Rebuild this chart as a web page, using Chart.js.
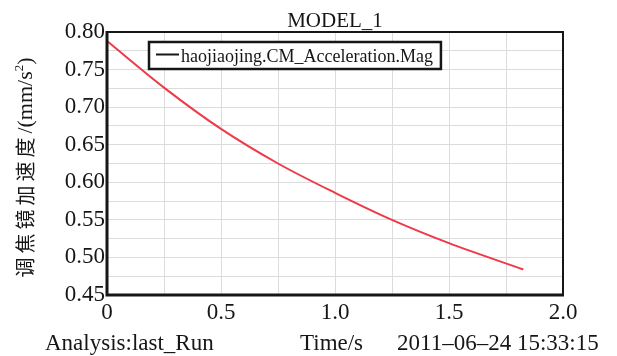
<!DOCTYPE html>
<html>
<head>
<meta charset="utf-8">
<script src="https://cdn.jsdelivr.net/npm/chart.js@4.4.1/dist/chart.umd.min.js"></script>
<style>
html,body{margin:0;padding:0;background:#fff;}
#wrap{width:617px;height:356px;}
</style>
</head>
<body>
<div id="wrap"><canvas id="c" width="617" height="356"></canvas></div>
<script>
// Data
const timeValues = [0, 0.25, 0.5, 0.75, 1.0, 1.25, 1.5, 1.826];
const accelValues = [0.788, 0.726, 0.671, 0.625, 0.586, 0.550, 0.519, 0.484];
const seriesName = 'haojiaojing.CM_Acceleration.Mag';
const chartTitle = 'MODEL_1';
const yTitleCJK = '调焦镜加速度';
const xTitle = 'Time/s';
const footerLeft = 'Analysis:last_Run';
const footerRight = '2011–06–24 15:33:15';

const SERIF = '"Liberation Serif", "DejaVu Serif", serif';

const points = timeValues.map((t, i) => ({x: t, y: accelValues[i]}));

const decor = {
  id: 'decor',
  afterDraw(chart) {
    const ctx = chart.ctx;
    const {left, top, right, bottom} = chart.chartArea;
    ctx.save();
    // plot frame
    ctx.strokeStyle = '#161616';
    ctx.lineWidth = 2;
    ctx.strokeRect(left, top, right - left, bottom - top);
    ctx.lineWidth = 3;
    ctx.beginPath();
    ctx.moveTo(left, top - 1);
    ctx.lineTo(left, bottom);
    ctx.lineTo(right + 1, bottom);
    ctx.stroke();

    // legend box
    ctx.fillStyle = '#fff';
    ctx.font = '18px ' + SERIF;
    const tw = ctx.measureText(seriesName).width;
    const bx = left + 42, by = top + 10, bh = 27;
    const bw = 32 + tw + 8;
    ctx.fillRect(bx, by, bw, bh);
    ctx.lineWidth = 2.5;
    ctx.strokeRect(bx, by, bw, bh);
    ctx.lineWidth = 2;
    ctx.beginPath();
    ctx.moveTo(bx + 7, by + 12.5);
    ctx.lineTo(bx + 30, by + 12.5);
    ctx.stroke();
    ctx.fillStyle = '#161616';
    ctx.textBaseline = 'alphabetic';
    ctx.textAlign = 'left';
    ctx.fillText(seriesName, bx + 32, by + 20);

    // title
    ctx.font = '21px ' + SERIF;
    ctx.textAlign = 'center';
    ctx.fillText(chartTitle, (left + right) / 2, 27);

    // footer
    ctx.font = '23px ' + SERIF;
    ctx.textAlign = 'left';
    ctx.fillText(footerLeft, 45, 350);
    ctx.fillText(xTitle, 300, 350);
    ctx.fillText(footerRight, 397, 350);

    // y title (rotated)
    ctx.translate(25, 167.5);
    ctx.rotate(-Math.PI / 2);
    ctx.textBaseline = 'middle';
    ctx.textAlign = 'left';
    ctx.font = '20px "Noto Sans CJK SC", sans-serif';
    ctx.letterSpacing = '4px';
    const wCJK = ctx.measureText(yTitleCJK).width;
    ctx.letterSpacing = '0px';
    ctx.font = '22px ' + SERIF;
    const p1 = '/(mm/s', p3 = ')';
    const w1 = ctx.measureText(p1).width;
    const w3 = ctx.measureText(p3).width;
    ctx.font = '13px ' + SERIF;
    const w2 = ctx.measureText('2').width;
    const total = wCJK + w1 + w2 + w3;
    let x = -total / 2;
    ctx.font = '20px "Noto Sans CJK SC", sans-serif';
    ctx.letterSpacing = '4px';
    ctx.fillText(yTitleCJK, x, 0);
    ctx.letterSpacing = '0px';
    x += wCJK;
    ctx.font = '22px ' + SERIF;
    ctx.textBaseline = 'alphabetic';
    ctx.fillText(p1, x, 7);
    x += w1;
    ctx.font = '13px ' + SERIF;
    ctx.fillText('2', x, -2);
    x += w2;
    ctx.font = '22px ' + SERIF;
    ctx.fillText(p3, x, 7);
    ctx.restore();
  }
};

new Chart(document.getElementById('c'), {
  type: 'line',
  data: {
    datasets: [{
      label: seriesName,
      data: points,
      borderColor: '#ee3a48',
      borderWidth: 2,
      pointRadius: 0,
      cubicInterpolationMode: 'monotone',
      fill: false
    }]
  },
  options: {
    responsive: false,
    animation: false,
    devicePixelRatio: 1,
    layout: {padding: {left: 0, top: 32, right: 54, bottom: 31}},
    plugins: {legend: {display: false}, title: {display: false}, tooltip: {enabled: false}},
    scales: {
      x: {
        type: 'linear', min: 0, max: 2,
        afterFit(s) { s.height = 30; },
        border: {display: false},
        grid: {color: '#dcdcdc', lineWidth: 1, drawTicks: false, tickLength: 0},
        ticks: {
          stepSize: 0.25, autoSkip: false, maxRotation: 0, padding: 4,
          color: '#161616', font: {family: SERIF, size: 23},
          callback(v) {
            if (Math.abs(v) < 1e-9) return '0';
            if (Math.abs(v * 2 - Math.round(v * 2)) < 1e-6) return v.toFixed(1);
            return '';
          }
        }
      },
      y: {
        min: 0.45, max: 0.80,
        afterFit(s) { s.width = 107; },
        border: {display: false},
        grid: {color: '#dcdcdc', lineWidth: 1, drawTicks: false, tickLength: 0},
        ticks: {
          stepSize: 0.025, autoSkip: false, padding: 2,
          color: '#161616', font: {family: SERIF, size: 23},
          callback(v) {
            if (Math.abs(v * 20 - Math.round(v * 20)) < 1e-6) return v.toFixed(2);
            return '';
          }
        }
      }
    }
  },
  plugins: [decor]
});
</script>
</body>
</html>
